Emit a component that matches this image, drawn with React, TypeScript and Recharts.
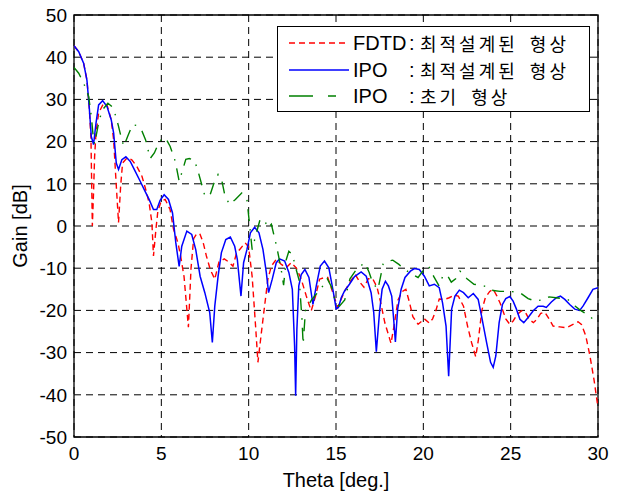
import React from "react";
import {
  LineChart,
  Line,
  XAxis,
  YAxis,
  CartesianGrid,
  ReferenceArea,
  Legend,
} from "recharts";

// [theta (deg), gain (dB)] pairs
const FDTD: [number, number][] = [
  [0, 42.7], [0.27, 41.3], [0.55, 38.6], [0.74, 34.6], [0.87, 28.3], [0.97, 21],
  [1.05, 0], [1.12, 8], [1.18, 16.5], [1.26, 22], [1.41, 26.8], [1.7, 29.1],
  [1.89, 28.7], [2.13, 25.2], [2.27, 20.4], [2.4, 11], [2.55, 0.8], [2.67, 9.4],
  [2.78, 14.9], [3.03, 16.1], [3.31, 15.7], [3.6, 14.1], [3.89, 11.8], [4.11, 8.6],
  [4.3, 5.5], [4.46, 0.8], [4.55, -7.1], [4.69, -0.8], [4.8, 3.5], [4.99, 5.9],
  [5.22, 6.3], [5.5, 3.9], [5.7, -0.8], [5.83, -2.4], [5.95, -4], [6.1, -7],
  [6.3, -12], [6.55, -24], [6.7, -10], [6.85, -3], [7.0, -2], [7.2, -1.8],
  [7.4, -4], [7.58, -7.1], [7.8, -10.3], [8.06, -12.6], [8.3, -8.5], [8.6, -7.8],
  [8.85, -8.5], [9.1, -9.5], [9.3, -6.5], [9.5, -5.5], [9.8, -4], [10.0, -5],
  [10.2, -12], [10.4, -24], [10.53, -32.3], [10.73, -25.2], [10.91, -19], [11.1, -12.6],
  [11.3, -9.5], [11.58, -7.9], [11.87, -9.1], [12.15, -9.9], [12.44, -8.7], [12.72, -9.9],
  [13.01, -12.6], [13.3, -16.6], [13.58, -20.1], [13.83, -16.6], [14.06, -12.6], [14.34, -12.2],
  [14.53, -12.2], [14.82, -15.8], [15.1, -19.3], [15.3, -17.3], [15.5, -15.4], [15.83, -13.1],
  [16.1, -11.5], [16.4, -13.5], [16.6, -14.5], [16.85, -12.5], [17.1, -12.5], [17.35, -14.5],
  [17.55, -18], [17.8, -23], [18.15, -27.8], [18.35, -23], [18.55, -17.5], [18.8, -15.5],
  [19.0, -15], [19.2, -18], [19.4, -21.5], [19.7, -23.3], [20.06, -22], [20.34, -23],
  [20.53, -22], [20.72, -20], [20.91, -17.3], [21.2, -17.4], [21.48, -17], [21.77, -16.4],
  [22.0, -16.6], [22.3, -19], [22.53, -23.7], [22.76, -27.6], [23.0, -31], [23.15, -27],
  [23.35, -20], [23.55, -17], [23.8, -15.5], [24.0, -15], [24.2, -16.5], [24.4, -18.3],
  [24.55, -20], [24.72, -22], [24.95, -23.3], [25.14, -22.5], [25.37, -21], [25.62, -20.1],
  [25.85, -20.5], [26.06, -22.1], [26.3, -22.9], [26.5, -22.1], [26.72, -20.7], [26.97, -20.5],
  [27.2, -22], [27.43, -23.7], [27.81, -23.9], [28.19, -24.1], [28.57, -23.3], [28.86, -22.7],
  [29.05, -23.3], [29.3, -26], [29.54, -30.8], [29.77, -36.4], [30, -43],
];

const IPO_OPT: [number, number][] = [
  [0, 42.7], [0.27, 41.3], [0.55, 38.6], [0.74, 34.6], [0.87, 28.3], [0.99, 21.2],
  [1.12, 19.3], [1.26, 24.4], [1.41, 28.7], [1.64, 29.7], [1.89, 28.3], [2.13, 25.2],
  [2.27, 22], [2.42, 14.9], [2.55, 13.4], [2.74, 15.7], [2.97, 16.4], [3.22, 15.3],
  [3.5, 13], [3.79, 10.6], [4.07, 8.2], [4.3, 6.3], [4.55, 3.9], [4.74, 3.9],
  [4.93, 6.1], [5.16, 7.4], [5.41, 6.3], [5.64, 3.1], [5.83, -4], [6.02, -9.6],
  [6.17, -4.8], [6.46, -1.2], [6.74, -2], [6.97, -5.6], [7.22, -11.9], [7.49, -15.8],
  [7.77, -20.5], [7.92, -27.6], [8.06, -19], [8.25, -11.9], [8.44, -6.3], [8.69, -3.2],
  [8.95, -2.6], [9.2, -4.8], [9.35, -7.9], [9.56, -16.6], [9.71, -8.7], [9.9, -5.6],
  [10.1, -1.6], [10.34, -0.3], [10.59, -1.6], [10.82, -5.6], [11.01, -11], [11.14, -15.8],
  [11.35, -12.6], [11.58, -8.7], [11.77, -7.8], [12.06, -8.3], [12.3, -11], [12.5, -15],
  [12.63, -28.4], [12.69, -40.2], [12.76, -24.5], [12.87, -14.2], [13.01, -11.5], [13.22, -10.3],
  [13.45, -12.2], [13.68, -18.6], [13.87, -14.2], [14.1, -9.5], [14.34, -8.3], [14.59, -9.9],
  [14.82, -15], [15.01, -19.6], [15.14, -19.3], [15.3, -17], [15.49, -15.4], [15.77, -13.8],
  [16.06, -12], [16.44, -10.9], [16.73, -11.9], [17.01, -15.8], [17.16, -20.5], [17.31, -29.8],
  [17.49, -20.5], [17.64, -15], [17.83, -13.1], [18.0, -14.2], [18.19, -16.6], [18.3, -22],
  [18.4, -27.5], [18.53, -19.7], [18.73, -15], [18.95, -12.2], [19.26, -10.7], [19.49, -10.1],
  [19.77, -10.3], [20.06, -11.9], [20.34, -14.2], [20.63, -13.8], [20.91, -14.6], [21.1, -18.2],
  [21.3, -23.7], [21.45, -35.6], [21.62, -19.7], [21.81, -16.6], [22.06, -15.2], [22.3, -15.8],
  [22.57, -17], [22.86, -16], [23.14, -17.4], [23.33, -21.3], [23.62, -27.6], [23.85, -32.3],
  [24.0, -33.5], [24.15, -30.8], [24.34, -22.9], [24.53, -18.6], [24.72, -17.2], [24.95, -16.7],
  [25.14, -17.8], [25.33, -19.7], [25.53, -22.1], [25.75, -22.9], [26.0, -21.7], [26.29, -20.1],
  [26.57, -19], [26.86, -19], [27.04, -19.3], [27.33, -18], [27.62, -17], [27.85, -16.6],
  [28.1, -17.4], [28.38, -18.6], [28.67, -19.7], [28.95, -20], [29.14, -19], [29.43, -17],
  [29.71, -15], [30, -14.6],
];

const IPO_INIT: [number, number][] = [
  [0, 37.6], [0.27, 36.2], [0.55, 33.9], [0.84, 30.7], [0.99, 26], [1.1, 21.2],
  [1.18, 19.4], [1.37, 23.6], [1.6, 27.4], [1.94, 29.1], [2.17, 28.3], [2.4, 26],
  [2.55, 23.6], [2.7, 21], [2.85, 18.9], [3.07, 21.2], [3.35, 24], [3.6, 23.8],
  [3.9, 22.4], [4.1, 20.4], [4.36, 16], [4.6, 17.3], [4.85, 19.7], [5.1, 21],
  [5.3, 20.4], [5.5, 18.9], [5.8, 15.3], [6.02, 10.6], [6.2, 13], [6.4, 15.8],
  [6.6, 16], [6.9, 15.5], [7.1, 13], [7.3, 10], [7.5, 7], [7.8, 7.5],
  [8.0, 10], [8.25, 12.2], [8.45, 11], [8.63, 7.4], [8.9, 5.1], [9.24, 6.3],
  [9.6, 7.8], [9.9, 6.3], [10.04, 0.8], [10.2, -5.6], [10.4, -2.3], [10.65, 1.5],
  [10.9, 1.5], [11.1, -0.5], [11.3, 0.4], [11.6, -4.8], [11.85, -10], [12.0, -14],
  [12.15, -8], [12.3, -6], [12.5, -6.7], [12.7, -10], [12.9, -13], [13.05, -22],
  [13.12, -28], [13.25, -20], [13.6, -17.5], [13.9, -16], [14.2, -14.5], [14.5, -12.5],
  [14.75, -14.5], [15.0, -18.5], [15.2, -19], [15.5, -17.5], [15.8, -12.5], [16.1, -10.7],
  [16.4, -9.5], [16.65, -8.7], [16.9, -11], [17.1, -13.5], [17.4, -15], [17.7, -9],
  [18.0, -8.3], [18.25, -8.1], [18.6, -9.1], [19.0, -10.5], [19.4, -11.5], [19.7, -12.2],
  [20.0, -10.5], [20.3, -9.5], [20.6, -12], [20.9, -14.2], [21.1, -12], [21.35, -11.5],
  [21.6, -13.3], [21.85, -12.5], [22.1, -10.7], [22.5, -12.5], [22.9, -13.8], [23.3, -14],
  [23.7, -14.5], [24.0, -15.3], [24.4, -15.5], [24.9, -15.5], [25.3, -15.6], [25.6, -16],
  [26.0, -17.2], [26.4, -17.8], [26.8, -17.5], [27.2, -16.8], [27.6, -17], [28.0, -17.2],
  [28.3, -17.5], [28.7, -19], [29.0, -20], [29.4, -21], [29.7, -22], [30, -23],
];

const X_TICKS = [0, 5, 10, 15, 20, 25, 30];
const Y_TICKS = [-50, -40, -30, -20, -10, 0, 10, 20, 30, 40, 50];

const LEGEND_NAMES = ["FDTD", "IPO", "IPO"];
const LEGEND_DESC = ["최적설계된 형상", "최적설계된 형상", "초기 형상"];
const COLORS = ["#ff0000", "#0000ff", "#008000"];
const DASHES = ["6 4", undefined, "12 8 1.5 8"];

const toData = (pts: [number, number][]) => pts.map(([t, g]) => ({ t, g }));

const FONT = "'Liberation Sans', Arial, Helvetica, sans-serif";

function LegendBox() {
  return (
    <div
      style={{
        position: "relative",
        width: 311,
        height: 84,
        border: "1.5px solid #000",
        background: "#fff",
        fontFamily: FONT,
      }}
    >
      {LEGEND_NAMES.map((name, i) => {
        const top = 16 + i * 26.5;
        return (
          <React.Fragment key={i}>
            <svg
              style={{ position: "absolute", left: 11, top: top - 5 }}
              width={62}
              height={10}
            >
              <line
                x1={0}
                y1={5}
                x2={60}
                y2={5}
                stroke={COLORS[i]}
                strokeWidth={1.5}
                strokeDasharray={i === 2 ? "24 15 8" : DASHES[i]}
              />
            </svg>
            <span
              style={{
                position: "absolute",
                left: 75,
                top: top - 12,
                fontSize: 20,
                lineHeight: "24px",
              }}
            >
              {name}
            </span>
            <span
              style={{
                position: "absolute",
                left: 131,
                top: top - 12,
                fontSize: 20,
                lineHeight: "24px",
              }}
            >
              :
            </span>
            <span
              style={{
                position: "absolute",
                left: 142,
                top: top - 12,
                fontSize: 18,
                lineHeight: "24px",
                letterSpacing: "3px",
                wordSpacing: "5px",
                fontFamily: "'Noto Sans CJK KR', sans-serif",
                whiteSpace: "nowrap",
              }}
            >
              {LEGEND_DESC[i]}
            </span>
          </React.Fragment>
        );
      })}
    </div>
  );
}

export default function App() {
  return (
    <div
      style={{
        position: "absolute",
        left: 0,
        top: 0,
        width: 618,
        height: 497,
        background: "#fff",
        fontFamily: FONT,
      }}
    >
      <LineChart
        width={618}
        height={497}
        margin={{ top: 15, right: 20, bottom: 0, left: 0 }}
      >
        <CartesianGrid stroke="#000" strokeDasharray="7 5" strokeWidth={1} />
        <XAxis
          type="number"
          dataKey="t"
          domain={[0, 30]}
          ticks={X_TICKS}
          height={60}
          tickLine={false}
          tickSize={0}
          tickMargin={10}
          axisLine={false}
          tick={{ fill: "#000", fontSize: 19, fontFamily: FONT }}
          allowDataOverflow
          label={{
            value: "Theta [deg.]",
            position: "insideBottom",
            offset: 10,
            style: { fill: "#000", fontSize: 20, fontFamily: FONT },
          }}
        />
        <YAxis
          type="number"
          domain={[-50, 50]}
          ticks={Y_TICKS}
          width={74}
          tickLine={false}
          tickSize={0}
          tickMargin={7}
          axisLine={false}
          tick={{ fill: "#000", fontSize: 19, fontFamily: FONT }}
          allowDataOverflow
          label={{
            value: "Gain [dB]",
            angle: -90,
            position: "insideLeft",
            offset: 20,
            style: {
              fill: "#000",
              fontSize: 20,
              fontFamily: FONT,
              textAnchor: "middle",
            },
          }}
        />
        <ReferenceArea
          x1={0}
          x2={30}
          y1={-50}
          y2={50}
          fill="none"
          fillOpacity={0}
          stroke="#000"
          strokeWidth={1.3}
        />
        <Line
          data={toData(FDTD)}
          dataKey="g"
          type="linear"
          stroke={COLORS[0]}
          strokeWidth={1.4}
          strokeDasharray={DASHES[0]}
          dot={false}
          isAnimationActive={false}
        />
        <Line
          data={toData(IPO_OPT)}
          dataKey="g"
          type="linear"
          stroke={COLORS[1]}
          strokeWidth={1.5}
          dot={false}
          isAnimationActive={false}
        />
        <Line
          data={toData(IPO_INIT)}
          dataKey="g"
          type="linear"
          stroke={COLORS[2]}
          strokeWidth={1.4}
          strokeDasharray={DASHES[2]}
          dot={false}
          isAnimationActive={false}
        />
        <Legend
          layout="vertical"
          align="center"
          verticalAlign="middle"
          content={() => <LegendBox />}
          wrapperStyle={{ left: 277, top: 26, width: 314, height: 87 }}
        />
      </LineChart>
    </div>
  );
}
